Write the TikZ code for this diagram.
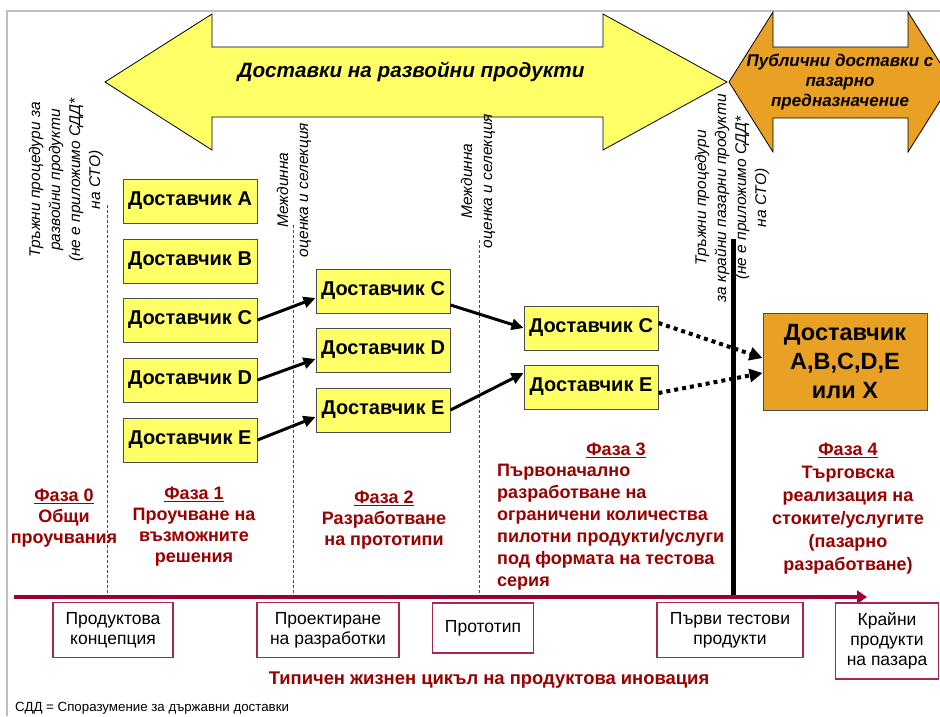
\documentclass[tikz,border=0pt]{standalone}
\usepackage{fontspec}
\setmainfont{Liberation Sans}
\usetikzlibrary{arrows.meta}

\definecolor{devyellow}{HTML}{FFFF66}
\definecolor{mktorange}{HTML}{E8A125}
\definecolor{phasered}{HTML}{990000}
\definecolor{axisred}{HTML}{990033}

\tikzset{
  supplier/.style={draw=black!70, line width=1pt, fill=devyellow, minimum width=134pt, minimum height=44pt, inner sep=0pt, font=\fontsize{20}{22}\selectfont\bfseries},
  milestone/.style={draw=axisred!85, line width=1.2pt, fill=white, align=center, inner sep=0pt, font=\fontsize{17.5}{20}\selectfont},
  phase/.style={text=phasered, align=center, inner sep=0pt, font=\fontsize{18}{21}\selectfont\bfseries},
  vnote/.style={rotate=90, align=center, inner sep=0pt, font=\fontsize{15.5}{20}\selectfont\itshape},
  gate/.style={dash pattern=on 3pt off 2pt, black!70, line width=0.8pt},
  pick/.style={line width=3pt, -{Triangle[length=12pt,width=11pt]}},
  award/.style={line width=4pt, dash pattern=on 4pt off 4pt, -{Triangle[length=13pt,width=13pt]}},
}

\begin{document}
\begin{tikzpicture}[x=1pt,y=-1pt]
  \useasboundingbox (0,0) rectangle (940,716);
  \draw[black!25, line width=2pt] (7,716) -- (7,11) -- (940,11);

  \draw[fill=devyellow, line width=0.8pt] (105,82) -- (212,14) -- (212,47) -- (603,47) -- (603,14) -- (727,82) -- (603,150) -- (603,117) -- (212,117) -- (212,150) -- cycle;
  \node (dev) at (411,72) {\fontsize{20.7}{24}\selectfont\bfseries\itshape Доставки на развойни продукти};
  \draw[fill=mktorange, line width=0.8pt] (729,82) -- (773,12) -- (773,47) -- (908,47) -- (908,12) -- (952,82) -- (908,152) -- (908,118) -- (773,118) -- (773,152) -- cycle;
  \node[align=center, font=\fontsize{17}{20}\selectfont\bfseries\itshape] (mkt) at (840,82) {Публични доставки с\\пазарно\\предназначение};

  \node[vnote] (lnote) at (66,180) {Тръжни процедури за\\развойни продукти\\(не е приложимо СДД*\\на СТО)};
  \node[vnote] (mnote1) at (294,190) {Междинна\\оценка и селекция};
  \node[vnote] (mnote2) at (478,181) {Междинна\\оценка и селекция};
  \node[vnote] (rnote) at (732,198) {Тръжни процедури\\за крайни пазарни продукти\\(не е приложимо СДД*\\на СТО)};

  \foreach \x/\y in {107/205, 293/225, 479/240}
    \draw[gate] (\x,\y) -- (\x,595);
  \draw[line width=5pt] (733,239) -- (733,598);

  \node[supplier] (s1A) at (190,201) {Доставчик A};
  \node[supplier] (s1B) at (190,261) {Доставчик B};
  \node[supplier] (s1C) at (190,320) {Доставчик C};
  \node[supplier] (s1D) at (190,380) {Доставчик D};
  \node[supplier] (s1E) at (190,440) {Доставчик E};
  \node[supplier] (s2C) at (383,291) {Доставчик C};
  \node[supplier] (s2D) at (383,350) {Доставчик D};
  \node[supplier] (s2E) at (383,410) {Доставчик E};
  \node[supplier] (s3C) at (591,328) {Доставчик C};
  \node[supplier] (s3E) at (591,387) {Доставчик E};
  \node[draw=black!70, line width=1pt, fill=mktorange, minimum width=164pt, minimum height=97pt, align=center, font=\fontsize{23.5}{29}\selectfont\bfseries] (all) at (845,362) {Доставчик\\A,B,C,D,E\\или X};

  \draw[pick] (s1C.east) -- ([yshift=-7pt]s2C.west);
  \draw[pick] (s1D.east) -- ([yshift=-9pt]s2D.west);
  \draw[pick] (s1E.east) -- ([yshift=-7pt]s2E.west);
  \draw[pick] ([yshift=-14pt]s2C.east) -- (s3C.west);
  \draw[pick] (s2E.east) -- ([yshift=14pt]s3E.west);
  \draw[award] ([yshift=5pt]s3C.east) -- ([yshift=4pt]all.west);
  \draw[award] ([yshift=-6pt]s3E.east) -- ([yshift=-11pt]all.west);

  \node[phase] (ph0) at (64,518) {\underline{Фаза 0}\\Общи\\проучвания};
  \node[phase] (ph1) at (194,527) {\underline{Фаза 1}\\Проучване на\\възможните\\решения};
  \node[phase] (ph2) at (384,520) {\underline{Фаза 2}\\Разработване\\на прототипи};
  \node[phase] (ph3) at (616,450) {\underline{Фаза 3}};
  \node[phase, align=left, anchor=west, font=\fontsize{18}{22}\selectfont\bfseries] (ph3txt) at (497,527) {Първоначално\\разработване на\\ограничени количества\\пилотни продукти/услуги\\под формата на тестова\\серия};
  \node[phase, font=\fontsize{18}{23}\selectfont\bfseries] (ph4) at (848,509) {\underline{Фаза 4}\\Търговска\\реализация на\\стоките/услугите\\(пазарно\\разработване)};

  \coordinate (tstart) at (14,597);
  \coordinate (tend) at (867,597);
  \draw[axisred, line width=4.5pt, -{Triangle[length=10pt,width=13pt]}] (tstart) -- (tend);

  \node[milestone, minimum width=120pt, minimum height=55pt] (m1) at (113,630) {Продуктова\\концепция};
  \node[milestone, minimum width=142pt, minimum height=55pt] (m2) at (328,630) {Проектиране\\на разработки};
  \node[milestone, minimum width=101pt, minimum height=50pt] (m3) at (483,628) {Прототип};
  \node[milestone, minimum width=146pt, minimum height=55pt] (m4) at (730,630) {Първи тестови\\продукти};
  \node[milestone, minimum width=103pt, minimum height=76pt] (m5) at (887,641) {Крайни\\продукти\\на пазара};

  \node[text=phasered, font=\fontsize{18.4}{20}\selectfont\bfseries] (cycle) at (489,680) {Типичен жизнен цикъл на продуктова иновация};
  \node[anchor=west, inner sep=0pt, font=\fontsize{13.3}{15}\selectfont] (foot) at (15,708) {СДД = Споразумение за държавни доставки};
\end{tikzpicture}
\end{document}
